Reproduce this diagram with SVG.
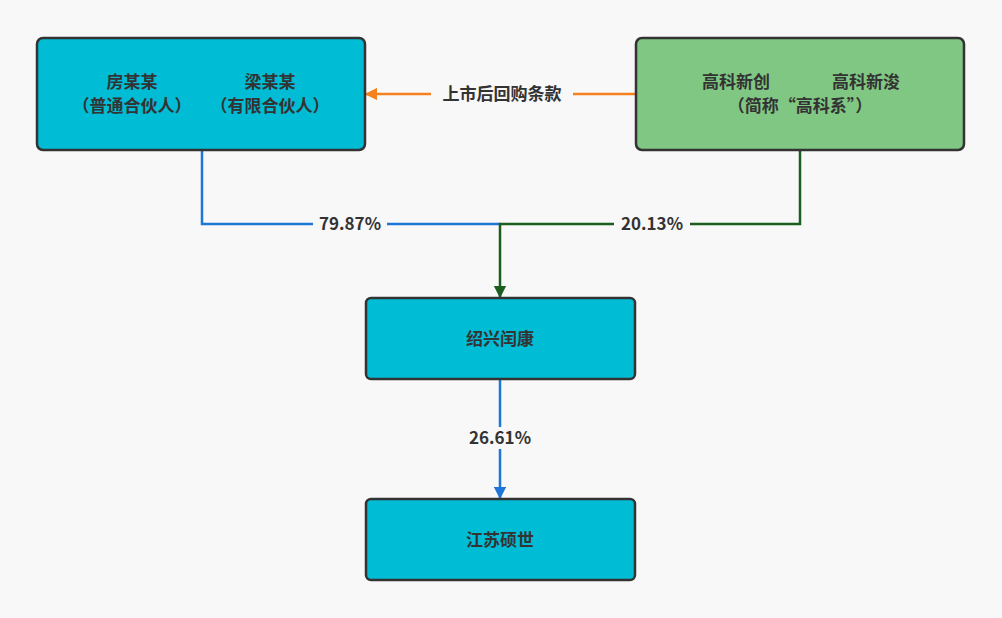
<svg xmlns="http://www.w3.org/2000/svg" width="1002" height="618" viewBox="0 0 1002 618">
<style>
.n{stroke:#333;stroke-width:2.5}
.t{font-family:"Noto Sans CJK SC",sans-serif;font-weight:bold;font-size:17px;fill:#333;text-anchor:middle}
.lb{font-family:"Noto Sans CJK SC",sans-serif;font-weight:bold;font-size:17px;fill:#333;text-anchor:middle}
</style>
<defs>
<marker id="ao" viewBox="0 0 10 10" refX="9" refY="5" markerWidth="5" markerHeight="5" orient="auto"><path d="M0,0L10,5L0,10z" fill="#f5801f"/></marker>
<marker id="ag" viewBox="0 0 10 10" refX="9" refY="5" markerWidth="5" markerHeight="6" orient="auto"><path d="M0,0L10,5L0,10z" fill="#1b5e20"/></marker>
<marker id="ab" viewBox="0 0 10 10" refX="9" refY="5" markerWidth="5" markerHeight="5" orient="auto"><path d="M0,0L10,5L0,10z" fill="#1e76d8"/></marker>
</defs>
<rect width="1002" height="618" fill="#f8f8f8"/>
<g id="connectors" fill="none">
<path d="M635,94H366" stroke="#f5801f" stroke-width="2.5" marker-end="url(#ao)"/>
<path d="M202,151V224H500" stroke="#1e76d8" stroke-width="2.5"/>
<path d="M800,151V224H500V297" stroke="#1b5e20" stroke-width="2.5" marker-end="url(#ag)"/>
<path d="M500,380V498" stroke="#1e76d8" stroke-width="2.5" marker-end="url(#ab)"/>
<rect x="431" y="82" width="142" height="24" fill="#f8f8f8"/>
<text class="lb" x="502" y="100">上市后回购条款</text>
<rect x="313" y="213" width="74" height="22" fill="#f8f8f8"/>
<text class="lb" x="350" y="230">79.87%</text>
<rect x="614" y="213" width="76" height="22" fill="#f8f8f8"/>
<text class="lb" x="652" y="230">20.13%</text>
<rect x="462" y="427" width="76" height="22" fill="#f8f8f8"/>
<text class="lb" x="500" y="444">26.61%</text>
</g>
<g id="n1"><rect class="n" x="37" y="38" width="328" height="112" rx="6" fill="#00bcd4"/>
<text class="t" x="132" y="88">房某某</text><text class="t" x="132" y="112">（普通合伙人）</text>
<text class="t" x="270" y="88">梁某某</text><text class="t" x="270" y="112">（有限合伙人）</text></g>
<g id="n2"><rect class="n" x="636" y="38" width="328" height="112" rx="6" fill="#81c784"/>
<text class="t" x="736" y="88">高科新创</text><text class="t" x="866" y="88">高科新浚</text>
<text class="t" x="800" y="112">（简称“高科系”）</text></g>
<g id="n3"><rect class="n" x="366" y="298" width="269" height="81" rx="5" fill="#00bcd4"/>
<text class="t" x="500" y="345">绍兴闰康</text></g>
<g id="n4"><rect class="n" x="366" y="499" width="269" height="81" rx="5" fill="#00bcd4"/>
<text class="t" x="500" y="546">江苏硕世</text></g>
</svg>
